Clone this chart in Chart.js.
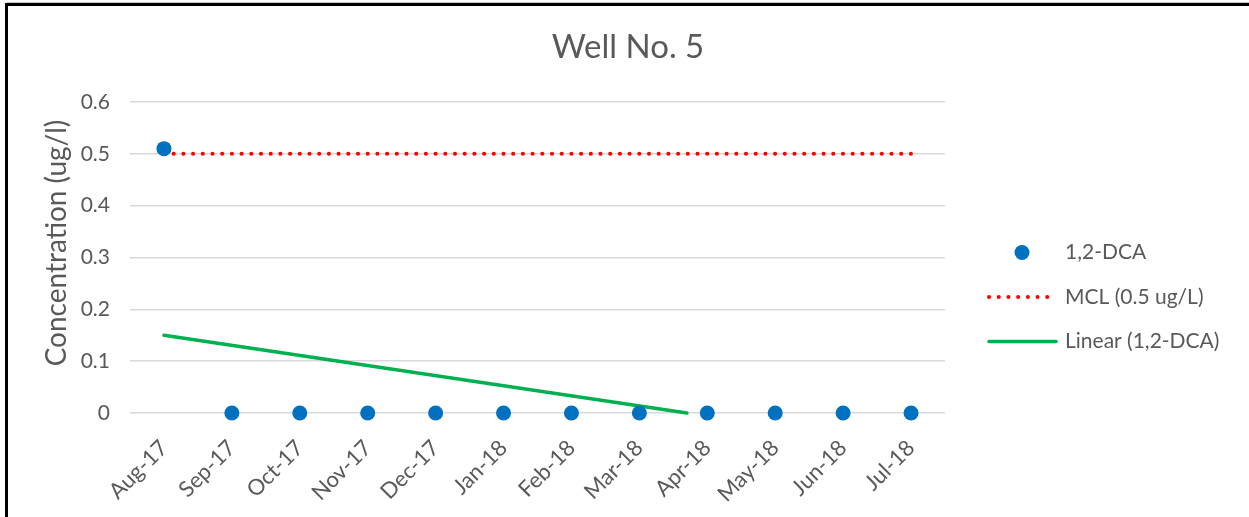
<!DOCTYPE html>
<html>
<head>
<meta charset="utf-8">
<title>Well No. 5</title>
<script src="https://cdn.jsdelivr.net/npm/chart.js@4.4.1/dist/chart.umd.min.js"></script>
<style>
  html, body { margin: 0; padding: 0; background: #ffffff; }
  #wrap { position: relative; width: 1249px; height: 517px; overflow: hidden; background: #ffffff; }
  #c { position: absolute; left: 0; top: 0; }
  .rule { position: absolute; }
</style>
</head>
<body>
<div id="wrap">
  <canvas id="c" width="1249" height="517"></canvas>
  <div class="rule" style="left:7px;right:0;top:2px;height:1px;background:#c4c4c4"></div>
  <div class="rule" style="left:5px;right:0;top:3px;height:3px;background:#000000"></div>
  <div class="rule" style="left:5px;width:3px;top:3px;bottom:0;background:#000000"></div>
</div>
<script>
// ---- data ----
const chartTitle = 'Well No. 5';
const yAxisTitle = 'Concentration (ug/l)';
const months = ['Aug-17', 'Sep-17', 'Oct-17', 'Nov-17', 'Dec-17', 'Jan-18',
                'Feb-18', 'Mar-18', 'Apr-18', 'May-18', 'Jun-18', 'Jul-18'];
const dcaValues = [0.51, 0, 0, 0, 0, 0, 0, 0, 0, 0, 0, 0];
const mclValues = [0.5, 0.5, 0.5, 0.5, 0.5, 0.5, 0.5, 0.5, 0.5, 0.5, 0.5, 0.5];
// linear trend of 1,2-DCA, cut off where it meets the 0 axis
const trendMonthIndex = [0, 7.7];
const trendValues = [0.15, 0];
const yTicks = [0, 0.1, 0.2, 0.3, 0.4, 0.5, 0.6];
const seriesNames = ['1,2-DCA', 'MCL (0.5 ug/L)', 'Linear (1,2-DCA)'];

// ---- styling ----
const textColor = '#595959';
const fontFamily = 'Lato, "Open Sans", "Liberation Sans", sans-serif';

const toPoints = (vals) => vals.map((v, i) => ({ x: i, y: v }));

// title, rotated axis title and the side legend
const decor = {
  id: 'decor',
  afterDraw(chart) {
    const ctx = chart.ctx;
    ctx.save();
    ctx.fillStyle = textColor;
    ctx.textBaseline = 'middle';

    ctx.font = '33px ' + fontFamily;
    ctx.textAlign = 'center';
    ctx.fillText(chartTitle, 628, 47);

    ctx.save();
    ctx.translate(57, 243);
    ctx.rotate(-Math.PI / 2);
    ctx.font = '28px ' + fontFamily;
    ctx.fillText(yAxisTitle, 0, 0);
    ctx.restore();

    const ds = chart.data.datasets;
    const rows = [252.5, 297, 341.5];
    const textX = 1065;
    ctx.font = '21px ' + fontFamily;
    ctx.textAlign = 'left';

    // marker entry
    ctx.beginPath();
    ctx.fillStyle = ds[0].backgroundColor;
    ctx.arc(1022, rows[0], ds[0].pointRadius, 0, Math.PI * 2);
    ctx.fill();

    // dotted entry
    ctx.save();
    ctx.strokeStyle = ds[1].borderColor;
    ctx.lineWidth = ds[1].borderWidth;
    ctx.lineCap = 'round';
    ctx.setLineDash(ds[1].borderDash);
    ctx.beginPath();
    ctx.moveTo(989, rows[1]);
    ctx.lineTo(1050, rows[1]);
    ctx.stroke();
    ctx.restore();

    // solid entry
    ctx.save();
    ctx.strokeStyle = ds[2].borderColor;
    ctx.lineWidth = ds[2].borderWidth;
    ctx.lineCap = 'round';
    ctx.beginPath();
    ctx.moveTo(989, rows[2]);
    ctx.lineTo(1056, rows[2]);
    ctx.stroke();
    ctx.restore();

    ctx.fillStyle = textColor;
    ds.forEach((d, i) => ctx.fillText(d.label, textX, rows[i]));
    ctx.restore();
  }
};

new Chart(document.getElementById('c'), {
  type: 'scatter',
  data: {
    datasets: [
      {
        label: seriesNames[0],
        data: toPoints(dcaValues),
        showLine: false,
        clip: false,
        pointRadius: 7.5,
        pointHoverRadius: 7.5,
        backgroundColor: '#0070C0',
        borderColor: '#0070C0',
        borderWidth: 0
      },
      {
        label: seriesNames[1],
        data: toPoints(mclValues),
        showLine: true,
        clip: false,
        pointRadius: 0,
        borderColor: '#FF0000',
        borderWidth: 4,
        borderDash: [0.1, 9.6],
        borderCapStyle: 'round',
        tension: 0
      },
      {
        label: seriesNames[2],
        data: trendMonthIndex.map((x, i) => ({ x, y: trendValues[i] })),
        showLine: true,
        clip: false,
        pointRadius: 0,
        borderColor: '#00B050',
        borderWidth: 3.5,
        borderCapStyle: 'round',
        tension: 0
      }
    ]
  },
  options: {
    responsive: false,
    animation: false,
    devicePixelRatio: 1,
    layout: { padding: { top: 102, right: 304, bottom: 0, left: 0 } },
    plugins: {
      legend: { display: false },
      title: { display: false },
      tooltip: { enabled: false }
    },
    scales: {
      x: {
        type: 'linear',
        min: -0.5,
        max: 11.5,
        afterBuildTicks: (s) => { s.ticks = months.map((m, i) => ({ value: i })); },
        afterFit: (s) => { s.height = 104; },
        grid: { display: false, drawTicks: false },
        border: { display: false },
        ticks: {
          autoSkip: false,
          minRotation: 45,
          maxRotation: 45,
          padding: 22,
          color: textColor,
          font: { family: fontFamily, size: 22 },
          callback: (v) => months[v]
        }
      },
      y: {
        min: 0,
        max: 0.6,
        afterBuildTicks: (s) => { s.ticks = yTicks.map((v) => ({ value: v })); },
        afterFit: (s) => { s.width = 130; },
        grid: { color: '#D9D9D9', lineWidth: 1.5, drawTicks: false },
        border: { display: false },
        ticks: {
          padding: 20,
          color: textColor,
          font: { family: fontFamily, size: 21 },
          callback: (v) => String(v)
        }
      }
    }
  },
  plugins: [decor]
});
</script>
</body>
</html>
